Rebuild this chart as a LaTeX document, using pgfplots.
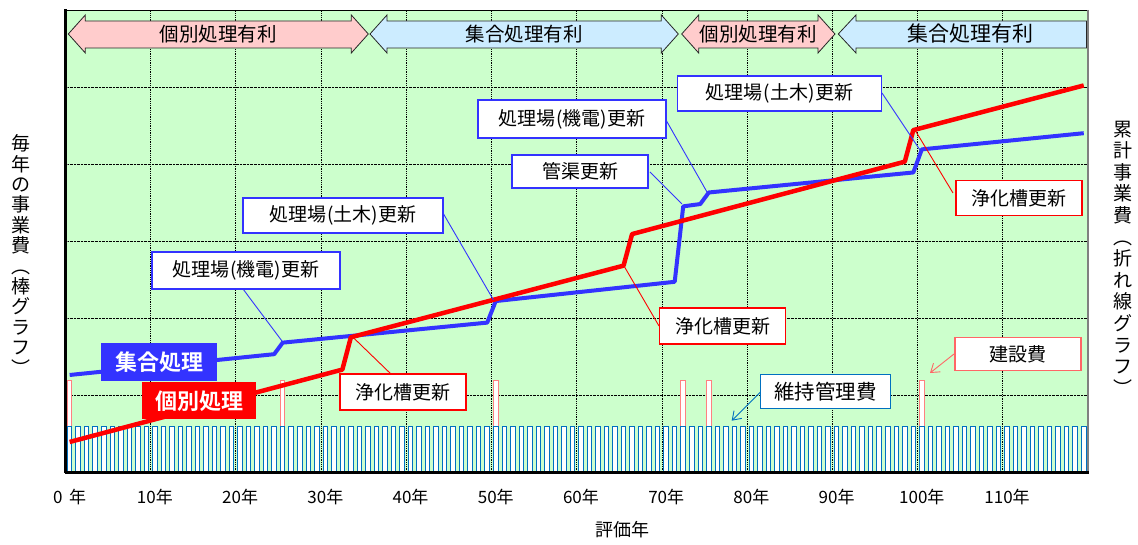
\documentclass[border=0pt]{standalone}
\usepackage{pgfplots}
\pgfplotsset{compat=1.18}
\usepackage{fontspec}
\setmainfont{Noto Sans CJK JP}[BoldFont={Noto Sans CJK JP Bold}]
\usetikzlibrary{arrows.meta}
\definecolor{bgg}{RGB}{204,255,204}
\definecolor{pinkA}{RGB}{255,204,204}
\definecolor{blueA}{RGB}{204,236,255}
\definecolor{lblue}{RGB}{51,51,255}
\definecolor{lred}{RGB}{255,0,0}
\definecolor{barblue}{RGB}{0,112,192}
\definecolor{barpink}{RGB}{255,128,128}
\definecolor{kenred}{RGB}{255,102,102}
\newcommand{\dblarrow}[3]{%
  \draw[fill=#3, draw=black!85, line width=0.8bp]
    (#1,34) -- (#1+17,15) -- (#1+17,21) -- (#2-17,21) -- (#2-17,15) -- (#2,34)
    -- (#2-17,53) -- (#2-17,48) -- (#1+17,48) -- (#1+17,53) -- cycle;}
\begin{document}
\begin{tikzpicture}
\useasboundingbox (0,0) rectangle (1138bp,545bp);
\begin{axis}[
  at={(65.4bp,73bp)}, anchor=south west,
  width=1022.6bp, height=462bp, scale only axis,
  xmin=-0.5, xmax=119.5, ymin=0, ymax=6,
  axis background/.style={fill=bgg},
  xtick={0,10,20,30,40,50,60,70,80,90,100,110},
  xticklabels={{0\, 年},10年,20年,30年,40年,50年,60年,70年,80年,90年,100年,110年},
  xtick style={draw=none},
  minor xtick={9.5,19.5,29.5,39.5,49.5,59.5,69.5,79.5,89.5,99.5,109.5},
  xminorgrids=true,
  ytick={1,2,3,4,5}, yticklabels={}, ymajorgrids=true,
  ytick pos=left, tick align=inside, major tick length=3bp,
  grid style={black, densely dotted, line width=0.8bp},
  minor grid style={black, densely dotted, line width=0.8bp},
  xticklabel style={font=\fontsize{17bp}{20bp}\selectfont, yshift=-14bp},
  axis line style={black, line width=1bp},
]
% construction / renewal bars (drawn full height, maintenance bar drawn over their lower part)
\addplot[ybar, bar width=0.53, bar shift=0pt, draw=barpink, fill=white, line width=1bp]
  coordinates {(0,1.19)(25,1.19)(50,1.19)(72,1.19)(75,1.19)(100,1.19)};
% yearly maintenance bars
\addplot[ybar, bar width=0.53, bar shift=0pt, draw=barblue, fill=white, line width=1bp]
  coordinates {
  (0,0.59)(1,0.59)(2,0.59)(3,0.59)(4,0.59)(5,0.59)(6,0.59)(7,0.59)(8,0.59)(9,0.59)
  (10,0.59)(11,0.59)(12,0.59)(13,0.59)(14,0.59)(15,0.59)(16,0.59)(17,0.59)(18,0.59)(19,0.59)
  (20,0.59)(21,0.59)(22,0.59)(23,0.59)(24,0.59)(25,0.59)(26,0.59)(27,0.59)(28,0.59)(29,0.59)
  (30,0.59)(31,0.59)(32,0.59)(33,0.59)(34,0.59)(35,0.59)(36,0.59)(37,0.59)(38,0.59)(39,0.59)
  (40,0.59)(41,0.59)(42,0.59)(43,0.59)(44,0.59)(45,0.59)(46,0.59)(47,0.59)(48,0.59)(49,0.59)
  (50,0.59)(51,0.59)(52,0.59)(53,0.59)(54,0.59)(55,0.59)(56,0.59)(57,0.59)(58,0.59)(59,0.59)
  (60,0.59)(61,0.59)(62,0.59)(63,0.59)(64,0.59)(65,0.59)(66,0.59)(67,0.59)(68,0.59)(69,0.59)
  (70,0.59)(71,0.59)(72,0.59)(73,0.59)(74,0.59)(75,0.59)(76,0.59)(77,0.59)(78,0.59)(79,0.59)
  (80,0.59)(81,0.59)(82,0.59)(83,0.59)(84,0.59)(85,0.59)(86,0.59)(87,0.59)(88,0.59)(89,0.59)
  (90,0.59)(91,0.59)(92,0.59)(93,0.59)(94,0.59)(95,0.59)(96,0.59)(97,0.59)(98,0.59)(99,0.59)
  (100,0.59)(101,0.59)(102,0.59)(103,0.59)(104,0.59)(105,0.59)(106,0.59)(107,0.59)(108,0.59)(109,0.59)
  (110,0.59)(111,0.59)(112,0.59)(113,0.59)(114,0.59)(115,0.59)(116,0.59)(117,0.59)(118,0.59)(119,0.59)
  };
% cumulative cost: centralized (blue)
\addplot[lblue, line width=4bp, line join=round]
  coordinates {(0,1.26)(24,1.53)(25,1.68)(49,1.94)(50,2.22)(71,2.47)(72,3.45)(74,3.48)(75,3.63)(99,3.89)(100,4.19)(119,4.40)};
% cumulative cost: individual (red)
\addplot[lred, line width=4.5bp, line join=round]
  coordinates {(0,0.39)(32,1.33)(33,1.75)(65,2.68)(66,3.09)(98,4.03)(99,4.44)(119,5.02)};
\end{axis}
\begin{scope}[x=1bp, y=-1bp, shift={(0,545bp)}]
  % frame touches
  \draw[gray, line width=1.2bp] (1088,10) -- (1088,472);
  \draw[black, line width=2.2bp] (65.4,9.5) -- (65.4,473);
  \draw[black, line width=2.6bp] (64.5,472.5) -- (1089,472.5);
  % banner arrows
  \dblarrow{68.3}{368.3}{pinkA}
  \dblarrow{370}{678.3}{blueA}
  \dblarrow{681.7}{835}{pinkA}
  \draw[fill=blueA, draw=black!85, line width=0.8bp]
    (838.3,34) -- (856,15) -- (856,21) -- (1086.5,21) -- (1086.5,48) -- (856,48) -- (856,53) -- cycle;
  \node[font=\fontsize{19.5bp}{21bp}\selectfont] at (218,34) {個別処理有利};
  \node[font=\fontsize{19.5bp}{21bp}\selectfont] at (524,34) {集合処理有利};
  \node[font=\fontsize{19.5bp}{21bp}\selectfont] at (758,34) {個別処理有利};
  \node[font=\fontsize{21bp}{23bp}\selectfont] at (970,34) {集合処理有利};
  % leader lines
  \draw[lblue, line width=0.9bp] (243,289) -- (282.7,342);
  \draw[lblue, line width=0.9bp] (443,213) -- (493.5,300);
  \draw[lblue, line width=0.9bp] (666,120) -- (707,192);
  \draw[lblue, line width=0.9bp] (650,172) -- (682,204);
  \draw[lblue, line width=0.9bp] (882,93) -- (920,150);
  \draw[lred, line width=0.9bp] (352.7,337) -- (392,375);
  \draw[lred, line width=0.9bp] (624,266) -- (659,326);
  \draw[lred, line width=0.9bp] (915,130) -- (953,193);
  \draw[kenred, line width=0.9bp, -{Straight Barb[length=8bp,width=11bp]}] (954,354) -- (930,373);
  \draw[barblue, line width=0.9bp, -{Straight Barb[length=8bp,width=11bp]}] (760.7,391.7) -- (731.7,420.7);
  % callout boxes
  \tikzset{cb/.style={fill=white, line width=1.5bp, inner sep=0pt, font=\fontsize{19bp}{21bp}\selectfont}}
  \node[cb, draw=lblue, minimum width=188bp, minimum height=37bp] at (246,270.5) {処理場\kern1bp(機電)\kern1bp更新};
  \node[cb, draw=lblue, minimum width=200bp, minimum height=35bp] at (343,215.5) {処理場\kern1bp(土木)\kern1bp更新};
  \node[cb, draw=lblue, minimum width=188bp, minimum height=38bp] at (572,119) {処理場\kern1bp(機電)\kern1bp更新};
  \node[cb, draw=lblue, minimum width=136bp, minimum height=33bp] at (580,171.5) {管渠更新};
  \node[cb, draw=lblue, minimum width=204bp, minimum height=35bp] at (779.7,93.3) {処理場\kern1bp(土木)\kern1bp更新};
  \node[cb, draw=lred, minimum width=126bp, minimum height=36bp] at (403,392) {浄化槽更新};
  \node[cb, draw=lred, minimum width=126bp, minimum height=36bp] at (722.5,326) {浄化槽更新};
  \node[cb, draw=lred, minimum width=126bp, minimum height=35bp] at (1019,198) {浄化槽更新};
  \node[cb, draw=kenred, minimum width=126bp, minimum height=33bp] at (1018,354) {建設費};
  \node[cb, draw=barblue, minimum width=130bp, minimum height=34bp, font=\fontsize{20.5bp}{22bp}\selectfont] at (825.7,391.3) {維持管理費};
  \node[fill=lblue, text=white, inner sep=0pt, minimum width=115bp, minimum height=38bp, font=\fontsize{22bp}{24bp}\selectfont\bfseries] at (159,362) {集合処理};
  \node[fill=lred, text=white, inner sep=0pt, minimum width=114bp, minimum height=37bp, font=\fontsize{22bp}{24bp}\selectfont\bfseries] at (199,401) {個別処理};
  % axis titles
  \node[align=center, font=\fontsize{19bp}{20.4bp}\selectfont] at (21,255)
    {毎\\年\\の\\事\\業\\費\\︵\\棒\\グ\\ラ\\フ\\︶};
  \node[align=center, font=\fontsize{19bp}{21.6bp}\selectfont] at (1123,258)
    {累\\計\\事\\業\\費\\︵\\折\\れ\\線\\グ\\ラ\\フ\\︶};
  \node[font=\fontsize{18bp}{20bp}\selectfont] at (622,530) {評価年};
\end{scope}
\end{tikzpicture}
\end{document}
